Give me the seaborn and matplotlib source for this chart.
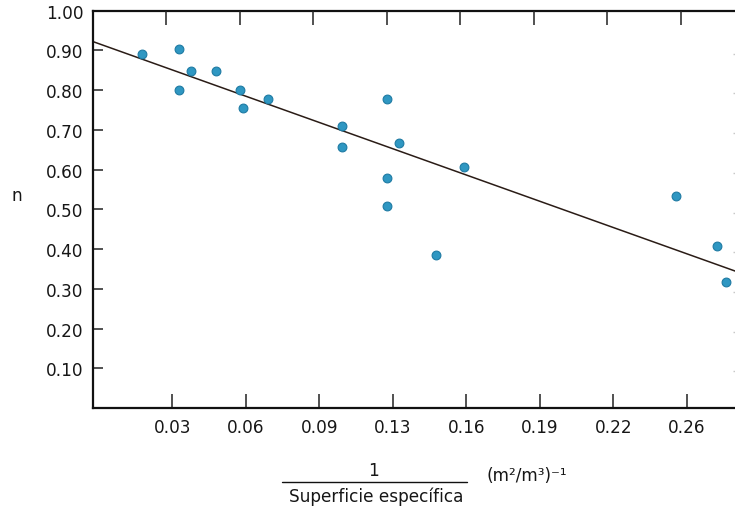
import matplotlib
matplotlib.use("Agg")
import matplotlib.pyplot as plt
import matplotlib.lines as mlines
import numpy as np
import pandas as pd
import seaborn as sns

# ---- data ----
x_vals = [0.0192, 0.0355, 0.0355, 0.0408, 0.0518, 0.0624, 0.0636, 0.0748,
          0.1074, 0.1074, 0.1275, 0.1329, 0.1275, 0.1275, 0.1491, 0.1615,
          0.2554, 0.2735, 0.2775]
n_vals = [0.892, 0.903, 0.800, 0.848, 0.848, 0.800, 0.756, 0.777,
          0.711, 0.656, 0.778, 0.666, 0.578, 0.508, 0.385, 0.607,
          0.533, 0.407, 0.318]
fit_intercept = 0.917
fit_slope = -2.034

x_tick_values = [0.0325, 0.065, 0.0975, 0.13, 0.1625, 0.195, 0.2275, 0.26]
x_tick_labels = ["0.03", "0.06", "0.09", "0.13", "0.16", "0.19", "0.22", "0.26"]
y_tick_values = [0.1, 0.2, 0.3, 0.4, 0.5, 0.6, 0.7, 0.8, 0.9, 1.0]
y_tick_labels = ["0.10", "0.20", "0.30", "0.40", "0.50", "0.60", "0.70",
                 "0.80", "0.90", "1.00"]

df = pd.DataFrame({"x": x_vals, "n": n_vals})

sns.set_theme(style="white")
plt.rcParams["font.family"] = ["DejaVu Sans"]

W, H = 735, 510
fig = plt.figure(figsize=(W / 100, H / 100), dpi=100)
ax_left, ax_right, ax_top, ax_bot = 93.3, 737.0, 11.7, 409.0
ax = fig.add_axes([ax_left / W, 1 - ax_bot / H, (ax_right - ax_left) / W,
                   (ax_bot - ax_top) / H])

xlim = (-0.00243, 0.2822)
ylim = (0.0, 1.0)

# regression line from coefficients
line_x = np.array(xlim)
line_df = pd.DataFrame({"x": line_x, "y": fit_intercept + fit_slope * line_x})
sns.lineplot(data=line_df, x="x", y="y", ax=ax, color="#2a1c16", lw=1.1,
             zorder=2)

sns.scatterplot(data=df, x="x", y="n", ax=ax, s=40, color="#2f97c2",
                edgecolor="#1e7aa3", linewidth=0.8, zorder=3)

ax.set_xlim(*xlim)
ax.set_ylim(*ylim)
ax.set_xticks(x_tick_values)
ax.set_xticklabels(x_tick_labels)
ax.set_yticks(y_tick_values)
ax.set_yticklabels(y_tick_labels)

txt_color = "#161616"
fs = 12.2
ax.tick_params(axis="x", direction="in", length=10, width=1.1,
               color="#222222", labelsize=fs, labelcolor=txt_color, pad=7,
               bottom=True, top=False)
ax.tick_params(axis="y", direction="in", length=7, width=1.1,
               color="#222222", labelsize=fs, labelcolor=txt_color, pad=7,
               left=True, right=False)

for side in ["left", "bottom", "top"]:
    ax.spines[side].set_visible(True)
    ax.spines[side].set_color("#111111")
    ax.spines[side].set_linewidth(1.6)
ax.spines["right"].set_visible(False)

# top ticks (slightly offset in the original)
top_offset = -0.00265
twin_top = ax.twiny()
twin_top.set_xlim(*xlim)
twin_top.set_xticks([v + top_offset for v in x_tick_values])
twin_top.set_xticklabels([])
twin_top.tick_params(axis="x", direction="in", length=10, width=1.1,
                     color="#222222", top=True, bottom=False)
for s in twin_top.spines.values():
    s.set_visible(False)

# faint right ticks
twin_r = ax.twinx()
twin_r.set_ylim(*ylim)
twin_r.set_yticks([v - 0.008 for v in y_tick_values[:-1]])
twin_r.set_yticklabels([])
twin_r.tick_params(axis="y", direction="in", length=3, width=1.0,
                   color="#c8c8c8", right=True, left=False)
for s in twin_r.spines.values():
    s.set_visible(False)

ax.set_xlabel("")
ax.set_ylabel("n", rotation=0, fontsize=fs, color=txt_color)
ax.yaxis.set_label_coords((17 - ax_left) / (ax_right - ax_left),
                          (ax_bot - 196) / (ax_bot - ax_top))
ax.yaxis.label.set_va("center")
ax.yaxis.label.set_ha("center")

# x label as a fraction
fig.text(374 / W, 1 - 471.5 / H, "1", ha="center", va="center",
         fontsize=fs, color=txt_color)
fig.add_artist(mlines.Line2D([281.7 / W, 466.7 / W],
                             [1 - 483.3 / H, 1 - 483.3 / H],
                             color="#111111", lw=1.0,
                             transform=fig.transFigure))
fig.text(376 / W, 1 - 496.5 / H, "Superficie específica", ha="center",
         va="center", fontsize=fs, color=txt_color)
fig.text(487 / W, 1 - 476 / H, "(m²/m³)⁻¹", ha="left", va="center",
         fontsize=fs, color=txt_color)

fig.savefig("out.png", dpi=100)
